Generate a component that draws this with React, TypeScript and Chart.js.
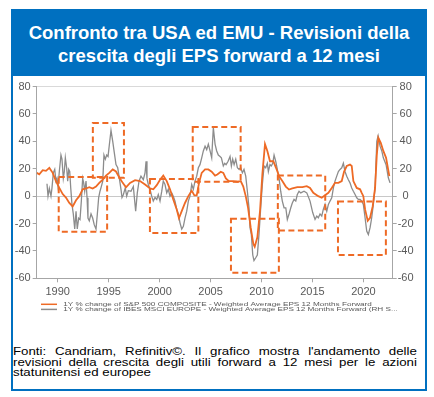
import React, { useEffect, useRef } from "react";
import { Chart, registerables } from "chart.js";

Chart.register(...registerables);

const ORANGE = "#EE6A25";
const GREY = "#8c8c8c";
const BLUE = "#0070C0";

const titleLines = [
  "Confronto tra USA ed EMU - Revisioni della",
  "crescita degli EPS forward a 12 mesi",
];

const footerLines = [
  "Fonti: Candriam, Refinitiv©. Il grafico mostra l'andamento delle",
  "revisioni della crescita degli utili forward a 12 mesi per le azioni",
  "statunitensi ed europee",
];

const seriesLabels = [
  "1Y % change of S&P 500 COMPOSITE - Weighted Average EPS 12 Months Forward",
  "1Y % change of IBES MSCI EUROPE - Weighted Average EPS 12 Months Forward (RH S...",
];

const yTickValues = [-60, -40, -20, 0, 20, 40, 60, 80];
const xStepYears = 5;
const xMinYear = 1987.94;
const xMaxYear = 2022.87;

const sp500Years = [
  1987.95, 1988.19, 1988.53, 1988.85, 1989.18, 1989.51, 1989.83, 1990.16, 1990.49, 1990.81,
  1991.14, 1991.47, 1991.8, 1992.12, 1992.45, 1992.78, 1993.1, 1993.43, 1993.76, 1994.08,
  1994.42, 1994.74, 1995.06, 1995.4, 1995.72, 1996.05, 1996.38, 1996.7, 1997.1, 1997.59,
  1998.08, 1998.57, 1999.06, 1999.38, 1999.72, 2000.04, 2000.36, 2000.7, 2001.02, 2001.34,
  2001.68, 2001.9, 2002.17, 2002.49, 2002.82, 2003.15, 2003.41, 2003.64, 2003.87, 2004.13,
  2004.46, 2004.78, 2005.11, 2005.44, 2005.66, 2006.0, 2006.25, 2006.5, 2006.8, 2007.13,
  2007.63, 2007.96, 2008.21, 2008.45, 2008.68, 2008.94, 2009.2, 2009.33, 2009.59, 2009.85,
  2010.08, 2010.34, 2010.57, 2010.83, 2011.16, 2011.42, 2011.72, 2012.04, 2012.38, 2012.7,
  2013.02, 2013.51, 2014.0, 2014.44, 2014.76, 2015.08, 2015.57, 2015.91, 2016.23, 2016.56,
  2016.89, 2017.21, 2017.54, 2017.87, 2018.1, 2018.36, 2018.68, 2018.85, 2019.01, 2019.34,
  2019.67, 2019.83, 2019.99, 2020.16, 2020.42, 2020.65, 2020.91, 2021.14, 2021.31, 2021.46,
  2021.7, 2021.95, 2022.22, 2022.54,
];
const sp500Values = [
  17, 16, 19, 18.5, 20.6, 17, 11, 6, 1.5, -1,
  -5, -7.5, -3, 0, 5, 5.6, 6.6, 5.6, 7, 9.7,
  12, 15, 17, 19.5, 18, 13.6, 9.7, 6.5, 9.7, 11.7,
  11, 8.5, 5.6, 5, 8, 12, 15, 11, 5, -2.4,
  -9.7, -16, -11, -5, 0, 4, 0.5, 0.5, 9.7, 17,
  19.5, 19.5, 17.8, 15, 15.8, 17.8, 17, 13, 11, 11,
  10.5, 11, 7, 0, -8.5, -23, -35, -37, -30, -11,
  16, 38, 33, 25.5, 25.5, 20.7, 14.6, 11, 7, 4.8,
  5.6, 6.6, 6.6, 7.3, 6, 2.4, 0, -1.2, 0.7, 2.4,
  6, 9.7, 9.7, 11, 18, 22, 23, 22, 11, 6,
  5, 2.4, 0, -9.7, -18, -15.8, -7.3, 6, 30, 42.6,
  39, 33, 28, 14.6,
];

const msciYears = [
  1988.95, 1989.05, 1989.18, 1989.34, 1989.44, 1989.57, 1989.71, 1989.83, 1989.93, 1990.03,
  1990.16, 1990.32, 1990.42, 1990.55, 1990.65, 1990.75, 1990.88, 1990.98, 1991.08, 1991.18,
  1991.28, 1991.4, 1991.53, 1991.67, 1991.8, 1991.92, 1992.06, 1992.19, 1992.32, 1992.45,
  1992.55, 1992.65, 1992.78, 1992.88, 1992.97, 1993.1, 1993.27, 1993.43, 1993.59, 1993.76,
  1993.89, 1994.02, 1994.15, 1994.28, 1994.42, 1994.54, 1994.67, 1994.81, 1994.94, 1995.06,
  1995.23, 1995.4, 1995.55, 1995.72, 1995.89, 1996.05, 1996.21, 1996.31, 1996.44, 1996.63,
  1996.77, 1996.93, 1997.19, 1997.42, 1997.65, 1997.81, 1997.98, 1998.17, 1998.4, 1998.57,
  1998.67, 1998.76, 1998.89, 1999.06, 1999.22, 1999.38, 1999.55, 1999.72, 1999.87, 2000.04,
  2000.21, 2000.36, 2000.53, 2000.7, 2000.85, 2001.02, 2001.19, 2001.34, 2001.51, 2001.68,
  2001.84, 2002.0, 2002.17, 2002.33, 2002.49, 2002.66, 2002.82, 2002.98, 2003.15, 2003.31,
  2003.47, 2003.64, 2003.8, 2003.96, 2004.13, 2004.29, 2004.46, 2004.62, 2004.78, 2004.95,
  2005.11, 2005.27, 2005.44, 2005.6, 2005.76, 2005.93, 2006.06, 2006.25, 2006.39, 2006.52,
  2006.72, 2006.91, 2007.04, 2007.17, 2007.31, 2007.47, 2007.63, 2007.79, 2007.96, 2008.12,
  2008.28, 2008.45, 2008.61, 2008.77, 2008.87, 2009.0, 2009.14, 2009.26, 2009.43, 2009.59,
  2009.75, 2009.92, 2010.08, 2010.25, 2010.41, 2010.57, 2010.67, 2010.83, 2010.96, 2011.1,
  2011.23, 2011.39, 2011.55, 2011.72, 2011.88, 2012.04, 2012.21, 2012.38, 2012.53, 2012.7,
  2012.87, 2013.02, 2013.19, 2013.36, 2013.51, 2013.68, 2013.85, 2014.17, 2014.44, 2014.76,
  2015.02, 2015.25, 2015.42, 2015.57, 2015.74, 2015.91, 2016.06, 2016.23, 2016.4, 2016.56,
  2016.72, 2016.89, 2017.05, 2017.21, 2017.38, 2017.54, 2017.7, 2017.87, 2018.03, 2018.19,
  2018.36, 2018.52, 2018.68, 2018.85, 2019.01, 2019.18, 2019.34, 2019.5, 2019.67, 2019.83,
  2019.99, 2020.16, 2020.32, 2020.48, 2020.65, 2020.81, 2020.97, 2021.14, 2021.31, 2021.44,
  2021.63, 2021.8, 2021.95, 2022.22, 2022.44, 2022.61,
];
const msciValues = [
  9, 0, 5.6, 0, 6, 17, 19.5, 11, 13, 7,
  18, 30, 27, 13, 18, 28, 20.7, 11, 19.5, 18,
  6, -6, -13, -24, -11, -24, -16, -17, -3.6, 13,
  9.7, 3.6, 11, -1.2, -16, -18, -13, -16, -21, -24,
  -13, -1, 3.6, 7, 11, 30, 27, 30, 29, 37,
  48, 40, 32, 23, 20.7, 13, 5, -1, 1, 6,
  0, 4, 3.6, 7, -11, 2.4, 11, 14.6, 12, 17,
  25.5, 13, 8.5, 5, 0, -3.6, -1, -2.4, 1.2, -3.6,
  3.6, 11, 8.5, 2.4, 5, 0, 2.4, 0, -3.6, -9.7,
  -13, -19.5, -24, -22, -16, -11, -3.6, 0, 8.5, 5,
  11, 14.6, 20.7, 23, 28, 33, 36.5, 34, 38, 33,
  28, 50, 38, 33, 30, 29, 28, 22, 24, 23,
  25.5, 29, 22, 27, 23, 27, 20.7, 19.5, 20.7, 17,
  19.5, 14.6, 3.6, -8.5, -23, -28, -43, -47, -45, -43,
  -28, -8.5, 8.5, 22, 20.7, 24, 18, 23, 22, 24,
  30, 25.5, 19.5, 13, 3.6, -3.6, -8.5, -8.5, -17, -13,
  -8.5, -5, -2.4, -3.6, 1.2, 3.6, 2.4, 3.6, 2.4, -3.6,
  -12, -17, -14.6, -15.8, -13, -14.6, -9.7, -6, -11, -6,
  -3.6, -1.2, 6, 11, 14.6, 18, 19.5, 20.7, 24, 18,
  14.6, 12, 9.7, 6, 3.6, 1.2, -1.2, -2.4, -2.4, -3.6,
  -6, -15.8, -25.5, -28, -23, -15.8, -6, 6, 40, 44,
  36.5, 33, 28, 23, 13.4, 9.7,
];

// dashed highlight boxes, in data units
const boxStartYears = [1990.1, 1993.45, 1999.05, 2003.25, 2007.0, 2011.6, 2017.5];
const boxEndYears = [1994.85, 1996.5, 2003.8, 2007.95, 2011.7, 2016.25, 2022.2];
const boxLows = [-26, 13.5, -27, 10.5, -56, -25, -43];
const boxHighs = [14, 53.5, 12.5, 50.5, -16.5, 15, -4];

const TICK_FONT = { family: "'Liberation Sans', Arial, sans-serif", size: 11 };
const TICK_COLOR = "#595959";
const AXIS_COLOR = "#a6a6a6";

const boxesPlugin = {
  id: "dashedBoxes",
  afterDatasetsDraw(chart: any) {
    const { ctx, scales } = chart;
    const x = scales.x;
    const y = scales.y;
    ctx.save();
    ctx.strokeStyle = ORANGE;
    ctx.lineWidth = 2;
    ctx.setLineDash([6, 3.5]);
    for (let i = 0; i < boxStartYears.length; i++) {
      const l = x.getPixelForValue(boxStartYears[i]);
      const r = x.getPixelForValue(boxEndYears[i]);
      const t = y.getPixelForValue(boxHighs[i]);
      const b = y.getPixelForValue(boxLows[i]);
      ctx.strokeRect(l, t, r - l, b - t);
    }
    ctx.restore();
  },
};

const legendPlugin = {
  id: "squashedLegend",
  afterDraw(chart: any) {
    const { ctx, chartArea } = chart;
    ctx.save();
    chart.data.datasets.forEach((ds: any, i: number) => {
      const yy = chartArea.bottom + 26 + i * 5.1;
      ctx.strokeStyle = ds.borderColor;
      ctx.lineWidth = 1.5;
      ctx.setLineDash([]);
      ctx.beginPath();
      ctx.moveTo(28, yy);
      ctx.lineTo(44, yy);
      ctx.stroke();
      ctx.save();
      ctx.translate(50.3, yy);
      ctx.scale(1.02, 0.66);
      ctx.font = "8px 'Liberation Sans', Arial, sans-serif";
      ctx.fillStyle = "#595959";
      ctx.textBaseline = "middle";
      ctx.fillText(ds.label, 0, 0.5);
      ctx.restore();
    });
    ctx.restore();
  },
};

export default function App() {
  const canvasRef = useRef<HTMLCanvasElement | null>(null);

  useEffect(() => {
    const canvas = canvasRef.current;
    if (!canvas) return;
    const chart = new Chart(canvas, {
      type: "line",
      data: {
        datasets: [
          {
            label: seriesLabels[0],
            data: sp500Years.map((x, i) => ({ x, y: sp500Values[i] })),
            borderColor: ORANGE,
            borderWidth: 1.8,
            pointRadius: 0,
            tension: 0,
            yAxisID: "y",
          },
          {
            label: seriesLabels[1],
            data: msciYears.map((x, i) => ({ x, y: msciValues[i] })),
            borderColor: GREY,
            borderWidth: 1.3,
            pointRadius: 0,
            tension: 0,
            yAxisID: "y1",
          },
        ],
      },
      options: {
        animation: false,
        responsive: false,
        devicePixelRatio: 1,
        layout: { padding: { top: 7.3, bottom: 19.7, left: 0, right: 0 } },
        plugins: { legend: { display: false }, tooltip: { enabled: false } },
        scales: {
          x: {
            type: "linear",
            min: xMinYear,
            max: xMaxYear,
            afterFit: (s: any) => {
              s.height = 20;
            },
            border: { color: AXIS_COLOR, width: 1 },
            grid: { drawOnChartArea: false, color: AXIS_COLOR, tickColor: AXIS_COLOR, tickLength: 4 },
            ticks: {
              stepSize: xStepYears,
              includeBounds: false,
              maxRotation: 0,
              autoSkip: false,
              padding: 3,
              font: TICK_FONT,
              color: TICK_COLOR,
              callback: (v: any) => String(v),
            },
          },
          y: {
            position: "left",
            min: yTickValues[0],
            max: yTickValues[yTickValues.length - 1],
            afterFit: (s: any) => {
              s.width = 23.7;
            },
            afterBuildTicks: (s: any) => {
              s.ticks = yTickValues.map((value) => ({ value }));
            },
            border: { color: AXIS_COLOR, width: 1 },
            grid: {
              color: (c: any) =>
                c.tick && c.tick.value === 0 ? "#c8c8c8" : c.tick && c.tick.value === 80 ? "#d9d9d9" : "rgba(0,0,0,0)",
              tickColor: AXIS_COLOR,
              tickLength: 4,
            },
            ticks: { padding: 2, font: TICK_FONT, color: TICK_COLOR },
          },
          y1: {
            position: "right",
            min: yTickValues[0],
            max: yTickValues[yTickValues.length - 1],
            afterFit: (s: any) => {
              s.width = 32.3;
            },
            afterBuildTicks: (s: any) => {
              s.ticks = yTickValues.map((value) => ({ value }));
            },
            border: { color: AXIS_COLOR, width: 1 },
            grid: { drawOnChartArea: false, tickColor: AXIS_COLOR, tickLength: 4 },
            ticks: { padding: 1, crossAlign: "center", font: TICK_FONT, color: TICK_COLOR },
          },
        },
      },
      plugins: [boxesPlugin, legendPlugin],
    } as any);
    return () => chart.destroy();
  }, []);

  return (
    <div style={{ position: "absolute", left: 0, top: 0, width: 434, height: 397, background: "#fff" }}>
      <div
        style={{
          position: "absolute",
          left: 11,
          top: 9,
          width: 416,
          height: 382,
          boxSizing: "border-box",
          border: `2px solid ${BLUE}`,
        }}
      />
      <div
        style={{
          position: "absolute",
          left: 11,
          top: 9,
          width: 416,
          height: 67,
          background: BLUE,
          color: "#fff",
          fontFamily: "'Liberation Sans', Arial, sans-serif",
          fontWeight: "bold",
          fontSize: 18.5,
          lineHeight: "23px",
          textAlign: "center",
          paddingTop: 11.5,
          boxSizing: "border-box",
        }}
      >
        {titleLines.map((t, i) => (
          <div key={i}>{t}</div>
        ))}
      </div>
      <canvas
        ref={canvasRef}
        width={412}
        height={240}
        style={{ position: "absolute", left: 13, top: 78, width: 412, height: 240 }}
      />
      <div
        style={{
          position: "absolute",
          left: 13,
          top: 346,
          width: 350,
          transform: "scaleX(1.154)",
          transformOrigin: "left top",
          fontFamily: "'Liberation Sans', Arial, sans-serif",
          fontSize: 11.5,
          lineHeight: "10.5px",
          color: "#000",
        }}
      >
        {footerLines.map((t, i) => (
          <div
            key={i}
            style={{
              textAlign: i < footerLines.length - 1 ? "justify" : "left",
              textAlignLast: i < footerLines.length - 1 ? "justify" : "left",
              whiteSpace: "nowrap",
            } as any}
          >
            {t}
          </div>
        ))}
      </div>
    </div>
  );
}
